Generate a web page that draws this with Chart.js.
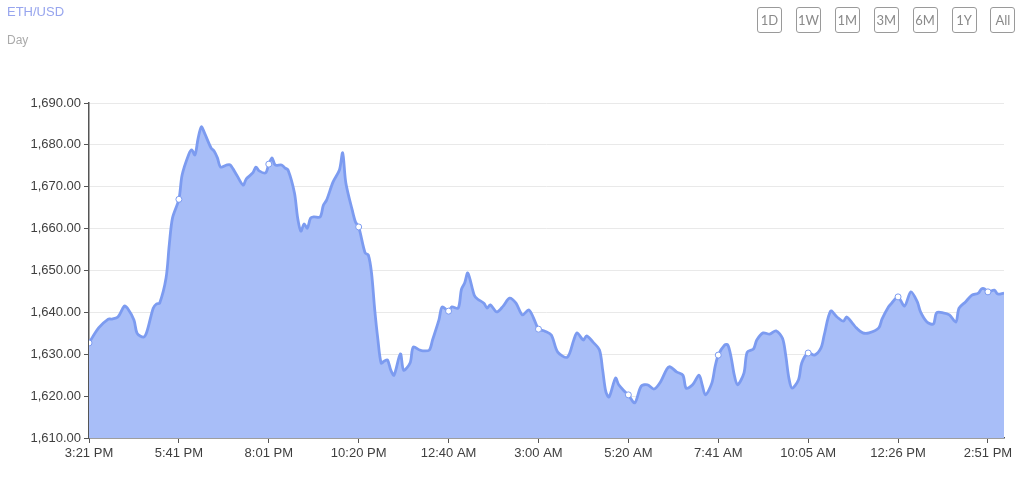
<!DOCTYPE html>
<html>
<head>
<meta charset="utf-8">
<script src="https://cdn.jsdelivr.net/npm/chart.js@4.4.0/dist/chart.umd.min.js"></script>
<style>
  html,body{margin:0;padding:0;background:#fff;width:1024px;height:477px;overflow:hidden;font-family:"Liberation Sans",Arial,sans-serif;}
  #wrap{position:absolute;left:0;top:0;width:1024px;height:477px;}
  #title{position:absolute;left:7px;top:4px;font-size:13px;color:#97a5ee;}
  #sub{position:absolute;left:7px;top:33px;font-size:12px;color:#aaa;}
  .btn{position:absolute;top:7px;width:23px;height:24px;border:1px solid #9a9a9a;border-radius:3px;box-sizing:content-box;
       font-family:Lato,"Open Sans",sans-serif;font-size:13px;color:#8a8a8a;text-align:center;line-height:24px;}
</style>
</head>
<body>
<div id="wrap">
  <canvas id="c" width="1024" height="477"></canvas>
  <div id="title">ETH/USD</div>
  <div id="sub">Day</div>
  <div id="btns"></div>
</div>
<script>
const rangeButtons = ["1D","1W","1M","3M","6M","1Y","All"];
const pairTitle = "ETH/USD";
const tickLabels = ["3:21 PM","5:41 PM","8:01 PM","10:20 PM","12:40 AM","3:00 AM","5:20 AM","7:41 AM","10:05 AM","12:26 PM","2:51 PM"];
const tickIndex = [0,28,56,84,112,140,168,196,224,252,280];
const sampleIndex = [0,3,6,7,9,11,12,14,15,17,18,20,21,22,24,25,26,28,29,31,32,33,34,35,36,38,39,40,41,43,44,46,48,49,51,52,53,55,56,57,58,60,61,62,64,65,66,67,68,69,70,72,73,74,76,78,79,80,82,83,84,86,87,88,89,90,91,92,93,94,95,97,98,100,101,103,104,106,107,109,110,112,113,115,116,117,118,120,121,123,124,125,127,129,131,133,135,137,139,140,142,144,146,149,151,152,154,155,157,159,160,161,162,164,165,167,168,170,172,174,176,178,180,181,183,185,186,188,190,191,192,194,195,196,198,199,200,201,202,204,205,207,208,210,212,214,216,217,218,219,221,222,224,226,228,229,231,233,235,236,238,239,241,243,246,247,249,250,252,254,256,258,259,261,263,264,266,268,270,271,273,275,277,278,279,280,282,283,285];
const price = [1632.7,1636.3,1638.4,1638.4,1638.9,1641.5,1641.0,1638.2,1635.0,1634.1,1635.3,1641.0,1642.0,1642.2,1648.2,1656.1,1662.5,1667.0,1672.8,1677.6,1678.8,1677.6,1681.6,1684.3,1682.8,1679.3,1678.5,1676.9,1674.7,1675.2,1675.2,1672.8,1670.4,1671.9,1673.3,1674.7,1673.8,1673.3,1675.4,1676.9,1675.2,1675.2,1674.5,1674.0,1668.5,1662.5,1659.4,1661.1,1660.1,1662.5,1662.8,1662.8,1665.6,1666.8,1671.1,1674.0,1678.1,1670.9,1664.4,1661.6,1660.4,1654.2,1653.7,1649.4,1640.6,1633.4,1627.9,1628.4,1628.6,1626.2,1625.0,1630.1,1626.2,1627.9,1631.7,1631.0,1630.8,1631.0,1633.4,1638.2,1641.3,1640.3,1641.3,1641.0,1645.5,1647.0,1649.4,1644.1,1643.2,1642.2,1641.0,1641.8,1640.1,1641.5,1643.4,1642.2,1639.4,1640.6,1637.7,1636.0,1635.5,1634.6,1630.5,1629.3,1633.4,1635.1,1633.4,1634.4,1632.9,1631.0,1626.2,1621.0,1619.8,1624.3,1622.7,1621.0,1620.3,1618.4,1622.4,1622.7,1621.7,1623.4,1626.5,1627.0,1625.8,1625.0,1621.9,1622.7,1625.0,1622.7,1620.3,1623.1,1627.0,1629.8,1632.2,1632.2,1629.3,1625.0,1622.7,1625.5,1630.5,1631.3,1633.4,1635.1,1634.8,1635.6,1633.8,1629.8,1624.3,1621.9,1623.9,1627.9,1630.3,1629.8,1631.5,1634.6,1640.3,1638.9,1637.9,1638.9,1637.2,1636.3,1635.1,1635.1,1636.3,1638.4,1641.3,1642.2,1643.7,1641.5,1644.9,1642.5,1640.1,1637.7,1637.2,1639.9,1639.9,1639.4,1637.7,1641.0,1642.5,1644.1,1644.6,1645.6,1645.6,1644.9,1645.3,1644.4,1644.6];

document.getElementById('title').textContent = pairTitle;
const btnWrap = document.getElementById('btns');
rangeButtons.forEach((t,i)=>{
  const d=document.createElement('div');
  d.className='btn';
  d.style.left=(757+i*38.9)+'px';
  d.textContent=t;
  btnWrap.appendChild(d);
});

const points = sampleIndex.map((x,i)=>({x:x,y:price[i]}));
const lineColor = '#7c9bf0';
const fillColor = 'rgba(168,190,248,1)';
const axisColor = '#555';
const font = {family:'"Liberation Sans", Arial, sans-serif', size:13};

new Chart(document.getElementById('c'),{
  type:'line',
  data:{datasets:[{
    data:points,
    borderColor:lineColor,
    backgroundColor:fillColor,
    borderWidth:2.8,
    fill:'start',
    tension:0.3,
    pointRadius:ctx=>tickIndex.includes(ctx.raw && ctx.raw.x)?3:0,
    pointBackgroundColor:'#fff',
    pointBorderColor:lineColor,
    pointBorderWidth:1,
    pointHoverRadius:0
  }]},
  options:{
    responsive:false,
    animation:false,
    events:[],
    layout:{padding:{left:0,top:103,right:20,bottom:0}},
    plugins:{legend:{display:false},tooltip:{enabled:false},title:{display:false}},
    scales:{
      x:{
        type:'linear',
        min:0,max:285,
        afterBuildTicks:s=>{s.ticks=tickIndex.map(v=>({value:v}));},
        afterFit:s=>{s.height=39;},
        ticks:{
          autoSkip:false,maxRotation:0,padding:3,color:'#3f3f3f',font:font,
          callback:v=>{const k=tickIndex.indexOf(v);return k>=0?tickLabels[k]:'';}
        },
        grid:{drawOnChartArea:false,tickColor:axisColor,tickLength:5},
        border:{display:true,color:axisColor,width:1.5}
      },
      y:{
        min:1610,max:1690,
        afterFit:s=>{s.width=89;},
        ticks:{stepSize:10,padding:3,color:'#3f3f3f',font:font,
          callback:v=>v.toLocaleString('en-US',{minimumFractionDigits:2,maximumFractionDigits:2})},
        grid:{color:'#e9e9e9',tickColor:axisColor,tickLength:5,lineWidth:1},
        border:{display:true,color:axisColor,width:1.5}
      }
    }
  }
});
</script>
</body>
</html>
